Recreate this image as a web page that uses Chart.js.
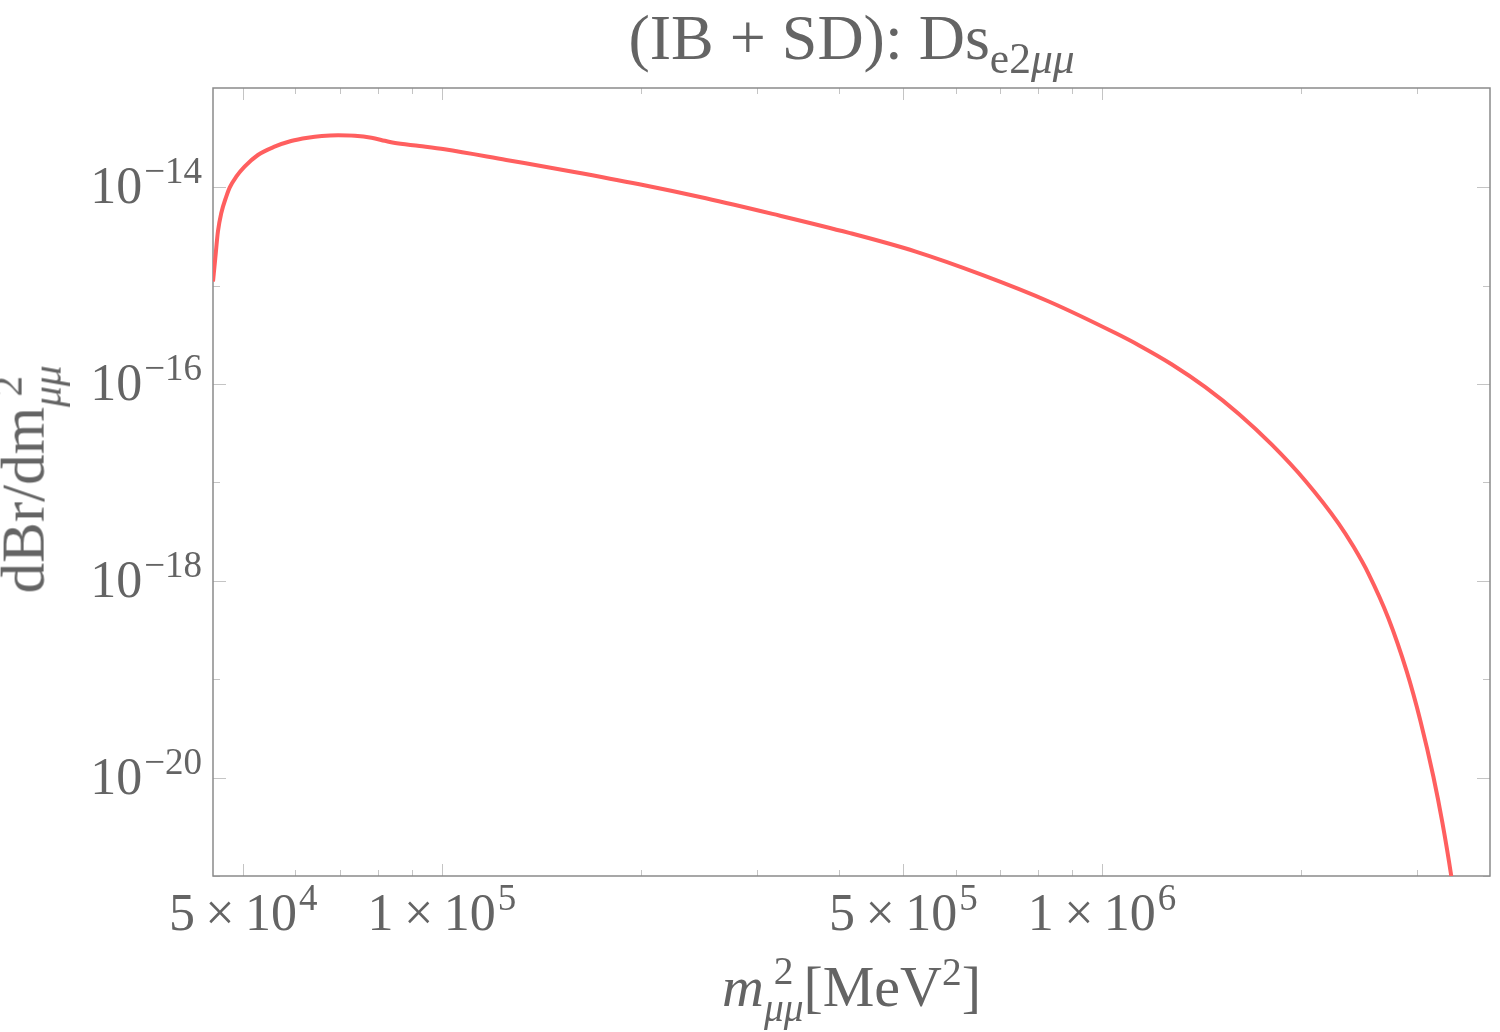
<!DOCTYPE html>
<html>
<head>
<meta charset="utf-8">
<script src="https://cdn.jsdelivr.net/npm/chart.js@4.4.1/dist/chart.umd.min.js"></script>
<style>
  body { margin: 0; background: #fff; }
  #wrap { position: relative; width: 1500px; height: 1032px; font-family: "Liberation Serif", serif; color: #646464; }
  #wrap canvas { position: absolute; left: 0; top: 0; }
  .lbl { position: absolute; white-space: nowrap; line-height: 1; }
  #title { left: 213px; width: 1277px; top: 6px; text-align: center; font-size: 64px; }
  #xtitle { left: 213px; width: 1277px; top: 955px; text-align: center; font-size: 58px; }
  #ytitle { left: -364px; width: 788px; top: 440px; text-align: center; transform: rotate(-90deg); font-size: 61px; }
  sub, sup { font-size: 0.68em; line-height: 0; }
  .ss { display: inline-flex; flex-direction: column; vertical-align: middle; font-size: 0.68em; line-height: 0.95; position: relative; top: -0.05em; }
</style>
</head>
<body>
<div id="wrap">
  <canvas id="chart" width="1500" height="1032"></canvas>
  <div class="lbl" id="title">(IB + SD): Ds<sub>e2<i>μμ</i></sub></div>
  <div class="lbl" id="xtitle"><i>m</i><span class="ss"><span>2</span><span><i>μμ</i></span></span>[MeV<sup>2</sup>]</div>
  <div class="lbl" id="ytitle">dBr/dm<span class="ss"><span>2</span><span><i>μμ</i></span></span></div>
</div>
<script>
// m^2_mumu [MeV^2] and dBr/dm^2
const m2Values = [45000, 45360, 45780, 46310, 47130, 47690, 48800, 50240, 52630, 55770, 59090, 62630,
  65770, 69610, 73790, 78200, 81910, 84520, 92530, 100950, 125160, 157870, 199100, 251100,
  316800, 413900, 522100, 658300, 830600, 1047800, 1136500, 1276200, 1433800, 1610100,
  1808000, 2031700, 2281200, 2403600, 2532500, 2715900, 2894300, 3035600, 3176200,
  3277300, 3375900, 3393600];
const dBrValues = [1.10e-15, 1.90e-15, 3.54e-15, 5.44e-15, 8.03e-15, 9.91e-15, 1.281e-14, 1.619e-14, 2.127e-14, 2.584e-14, 2.952e-14, 3.189e-14,
  3.318e-14, 3.373e-14, 3.334e-14, 3.181e-14, 2.966e-14, 2.830e-14, 2.626e-14, 2.431e-14, 1.893e-14, 1.440e-14, 1.073e-14, 7.73e-15,
  5.36e-15, 3.436e-15, 2.219e-15, 1.287e-15, 6.90e-16, 3.295e-16, 2.482e-16, 1.581e-16, 9.30e-17, 4.994e-17,
  2.420e-17, 1.041e-17, 3.843e-18, 2.229e-18, 1.186e-18, 4.143e-19, 1.200e-19, 3.791e-20, 1.026e-20,
  3.509e-21, 1.065e-21, 8.25e-22];

const xMajorTicks = [5e4, 1e5, 5e5, 1e6];
const xTickBase = ['5\u2009×\u200910', '1\u2009×\u200910', '5\u2009×\u200910', '1\u2009×\u200910'];
const xTickExp = ['4', '5', '5', '6'];
const xMinorTicks = [6e4, 7e4, 8e4, 9e4, 2e5, 3e5, 4e5, 6e5, 7e5, 8e5, 9e5, 2e6, 3e6];
const yMajorTicks = [1e-20, 1e-18, 1e-16, 1e-14];
const yTickBase = ['10', '10', '10', '10'];
const yTickExp = ['\u221220', '\u221218', '\u221216', '\u221214'];
const yMinorTicks = [1e-21, 1e-19, 1e-17, 1e-15];

const xMin = 45000, xMax = 3.87e6;
const yMin = 1e-21, yMax = 1.02e-13;

const textColor = '#646464';
const baseFont = '52px "Liberation Serif"';
const supFont = '37px "Liberation Serif"';

// label with a raised exponent, drawn as two text runs
function drawPowerLabel(ctx, base, exp, x, baseline, align) {
  ctx.font = baseFont;
  const wb = ctx.measureText(base).width;
  ctx.font = supFont;
  const we = ctx.measureText(exp).width;
  const total = wb + 2 + we;
  const x0 = align === 'right' ? x - total : x - total / 2;
  ctx.font = baseFont;
  ctx.fillText(base, x0, baseline);
  ctx.font = supFont;
  ctx.fillText(exp, x0 + wb + 2, baseline - 20);
}

const framePlugin = {
  id: 'frame',
  beforeDatasetsDraw(chart) {
    const { ctx, chartArea: a, scales } = chart;
    ctx.save();
    ctx.strokeStyle = '#c4c4c4';
    ctx.lineWidth = 1;
    const tick = (x1, y1, x2, y2) => { ctx.beginPath(); ctx.moveTo(x1, y1); ctx.lineTo(x2, y2); ctx.stroke(); };
    const xt = (v, len) => {
      const px = Math.round(scales.x.getPixelForValue(v)) + 0.5;
      tick(px, a.bottom, px, a.bottom - len);
      tick(px, a.top, px, a.top + len);
    };
    const yt = (v, len) => {
      const py = Math.round(scales.y.getPixelForValue(v)) + 0.5;
      tick(a.left, py, a.left + len, py);
      tick(a.right, py, a.right - len, py);
    };
    xMajorTicks.forEach(v => xt(v, 12));
    xMinorTicks.forEach(v => xt(v, 6));
    yMajorTicks.forEach(v => yt(v, 13));
    yMinorTicks.forEach(v => yt(v, 7));
    ctx.strokeStyle = '#8a8a8a';
    ctx.lineWidth = 1.5;
    ctx.strokeRect(a.left, a.top, a.right - a.left, a.bottom - a.top);

    ctx.fillStyle = textColor;
    ctx.textBaseline = 'alphabetic';
    ctx.textAlign = 'left';
    xMajorTicks.forEach((v, i) => {
      drawPowerLabel(ctx, xTickBase[i], xTickExp[i], scales.x.getPixelForValue(v), a.bottom + 54, 'center');
    });
    yMajorTicks.forEach((v, i) => {
      drawPowerLabel(ctx, yTickBase[i], yTickExp[i], a.left - 11, scales.y.getPixelForValue(v) + 16, 'right');
    });
    ctx.restore();
  }
};

new Chart(document.getElementById('chart'), {
  type: 'line',
  data: {
    datasets: [{
      data: m2Values.map((x, i) => ({ x: x, y: dBrValues[i] })),
      borderColor: '#ff5f5f',
      borderWidth: 4,
      pointRadius: 0,
      fill: false,
      cubicInterpolationMode: 'monotone'
    }]
  },
  options: {
    responsive: false,
    animation: false,
    layout: { padding: { top: 88, right: 10, left: 0, bottom: 0 } },
    plugins: { legend: { display: false }, title: { display: false }, tooltip: { enabled: false } },
    scales: {
      x: {
        type: 'logarithmic',
        min: xMin,
        max: xMax,
        afterFit: (scale) => { scale.height = 156; },
        grid: { display: false, drawTicks: false },
        border: { display: false },
        ticks: { display: false }
      },
      y: {
        type: 'logarithmic',
        min: yMin,
        max: yMax,
        afterFit: (scale) => { scale.width = 213; },
        grid: { display: false, drawTicks: false },
        border: { display: false },
        ticks: { display: false }
      }
    }
  },
  plugins: [framePlugin]
});
</script>
</body>
</html>
